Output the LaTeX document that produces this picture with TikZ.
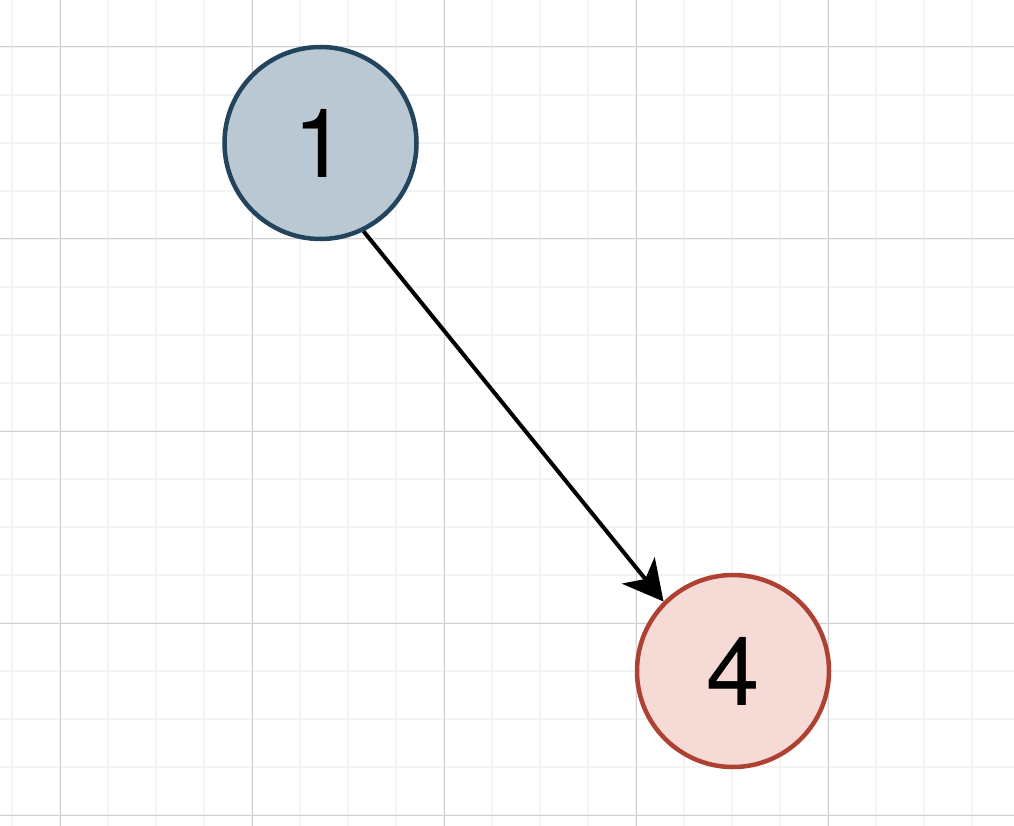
\documentclass[tikz,border=0pt]{standalone}
\usepackage{fontspec}
\setmainfont{TeX Gyre Heros}
\usetikzlibrary{arrows.meta}
\definecolor{gridminor}{HTML}{F3F3F3}
\definecolor{gridmajor}{HTML}{D0D0D0}
\definecolor{bluefill}{HTML}{BAC8D3}
\definecolor{bluedraw}{HTML}{23445D}
\definecolor{redfill}{HTML}{F6DAD6}
\definecolor{reddraw}{HTML}{AE4132}
\tikzset{
  statenode/.style={circle, minimum size=192pt, inner sep=0pt, line width=4.5pt,
    font=\fontsize{96}{96}\selectfont},
  bluestate/.style={statenode, fill=bluefill, draw=bluedraw},
  redstate/.style={statenode, fill=redfill, draw=reddraw},
  link/.style={line width=4pt, -{Stealth[length=40pt, width=42pt, inset=11pt]}}
}
\begin{document}
\begin{tikzpicture}[x=1pt, y=-1pt]
  \useasboundingbox (0,0) rectangle (1014,826);
  \fill[white] (0,0) rectangle (1014,826);
  % fine grid
  \foreach \x in {12,60,...,1012}
    \draw[gridminor, line width=1.3pt] (\x,0) -- (\x,826);
  \foreach \y in {47,95,...,826}
    \draw[gridminor, line width=1.3pt] (0,\y) -- (1014,\y);
  % coarse grid
  \foreach \x in {60,252,444,636,828}
    \draw[gridmajor, line width=1pt] (\x,0) -- (\x,826);
  \foreach \y in {47,239,431,623,815}
    \draw[gridmajor, line width=1pt] (0,\y) -- (1014,\y);
  % states
  \node[bluestate] (n1) at (320.5,143) {1};
  \node[redstate] (n4) at (733,671) {4};
  % transition
  \draw[link] (n1.-64.5) -- (n4.135);
\end{tikzpicture}
\end{document}
